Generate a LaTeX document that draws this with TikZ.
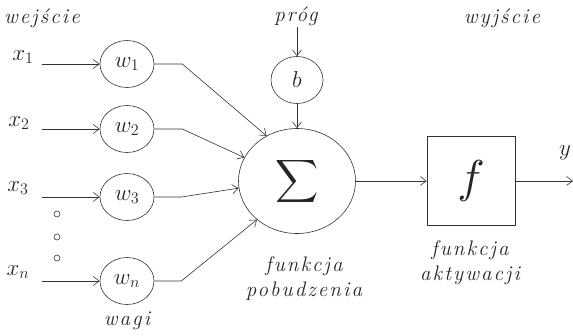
\RequirePackage{fix-cm}
\documentclass[tikz,border=0pt]{standalone}
\usepackage{fontspec}
\usepackage{graphicx}
\newfontfamily\lblfont[LetterSpace=10.0]{Latin Modern Roman}
\usetikzlibrary{shapes.geometric,arrows.meta}
\begin{document}
\begin{tikzpicture}[x=1pt,y=-1pt,
  txt/.style={inner sep=0pt,text=black!85,font=\fontsize{21}{25}\lblfont\itshape},
  mtxt/.style={inner sep=0pt,text=black!85,font=\fontsize{23}{27}\selectfont},
  wnode/.style={ellipse,draw=black!80,line width=0.6pt,minimum width=54pt,minimum height=47pt,inner sep=0pt,text=black!85,font=\fontsize{23}{27}\selectfont},
  dotc/.style={circle,draw=black!80,line width=0.6pt,minimum size=6pt,inner sep=0pt},
  conn/.style={draw=black!80,line width=0.6pt},
  arr/.style={conn,-{Straight Barb[length=6pt,width=9pt]}},
]
\useasboundingbox (0,0) rectangle (573,335);
% labels
\node[txt] (lin) at (42,18) {wejście};
\node[txt] (lprog) at (296,16) {próg};
\node[txt] (lout) at (502,18) {wyjście};
\node[txt] (lwagi) at (127,321) {wagi};
\node[txt,align=center] (lpob) at (304,279) {funkcja\\pobudzenia};
\node[txt,align=center] (lakt) at (470,263) {funkcja\\aktywacji};
\node[mtxt] (ly) at (565,153) {$y$};
% inputs
\node[mtxt] (x1) at (23,57) {$x_1$};
\node[mtxt] (x2) at (19,123) {$x_2$};
\node[mtxt] (x3) at (18,188) {$x_3$};
\node[mtxt] (xn) at (18,272) {$x_n$};
\node[dotc] (d1) at (57,214) {};
\node[dotc] (d2) at (57,237) {};
\node[dotc] (d3) at (57,258) {};
% weights
\node[wnode] (w1) at (127,64) {$w_1$};
\node[wnode] (w2) at (127,129) {$w_2$};
\node[wnode] (w3) at (127,197) {$w_3$};
\node[wnode] (wn) at (127,281) {$w_n$};
% bias and sum
\node[wnode,minimum width=52pt] (b) at (297,80) {$b$};
\node[ellipse,draw=black!80,line width=0.6pt,minimum width=117pt,minimum height=105pt,inner sep=0pt,text=black!85] (sum) at (297,181) {\raisebox{7pt}{\scalebox{3}{$\displaystyle\sum$}}};
\node[rectangle,draw=black!80,line width=0.6pt,minimum width=88pt,minimum height=89pt,inner sep=0pt,text=black!85] (f) at (471,181) {\scalebox{4.6}{$f$}};
% coordinates
\coordinate (i1) at (42,64);
\coordinate (i2) at (42,129);
\coordinate (i3) at (42,197);
\coordinate (in) at (42,281);
\coordinate (pt) at (297,27);
\coordinate (yo) at (573,181);
% connectors
\draw[arr] (i1) -- (w1.west);
\draw[arr] (i2) -- (w2.west);
\draw[arr] (i3) -- (w3.west);
\draw[arr] (in) -- (wn.west);
\draw[arr] (w1.east) -- ++(28,0) -- (sum.124);
\draw[arr] (w2.east) -- ++(28,0) -- (sum.156);
\draw[arr] (w3.east) -- ++(27,0) -- (sum.187);
\draw[arr] (wn.east) -- ++(27,0) -- (sum.224);
\draw[arr] (pt) -- (b.north);
\draw[arr] (b.south) -- (sum.north);
\draw[arr] (sum.east) -- (f.west);
\draw[arr] (f.east) -- (yo);
\end{tikzpicture}
\end{document}
